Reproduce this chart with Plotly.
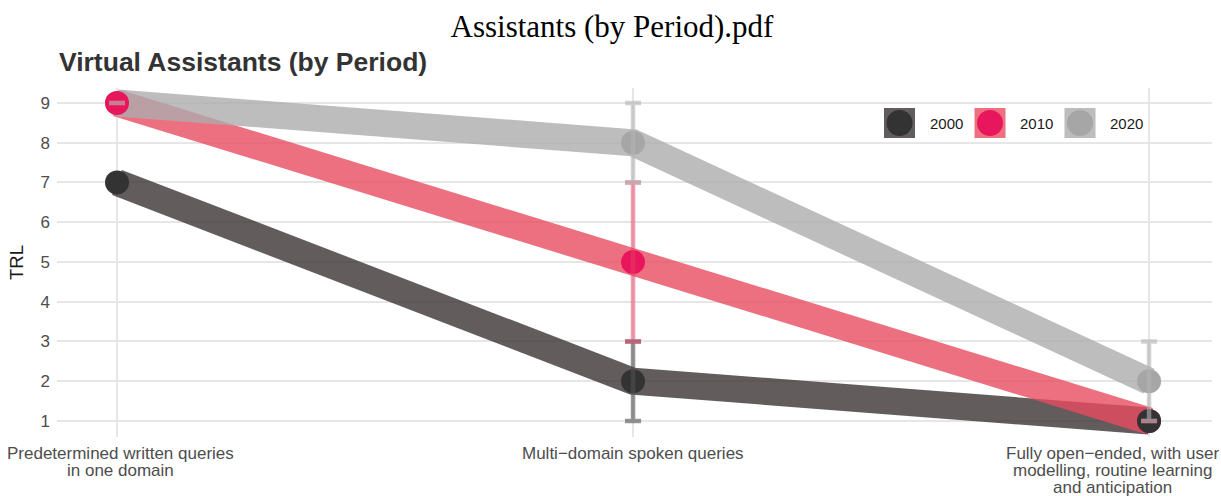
import plotly.graph_objects as go

categories = ["Predetermined written queries<br>in one domain",
              "Multi\u2212domain spoken queries",
              "Fully open\u2212ended, with user<br>modelling, routine learning<br>and anticipation"]
periods = ["2000", "2010", "2020"]
trl_2000 = [7, 2, 1]
trl_2010 = [9, 5, 1]
trl_2020 = [9, 8, 2]
low_2000 = [None, 1, 1]
high_2000 = [None, 3, 1]
low_2010 = [9, 3, 1]
high_2010 = [9, 7, 1]
low_2020 = [9, 7, 1]
high_2020 = [9, 9, 3]

values = {"2000": trl_2000, "2010": trl_2010, "2020": trl_2020}
lows = {"2000": low_2000, "2010": low_2010, "2020": low_2020}
highs = {"2000": high_2000, "2010": high_2010, "2020": high_2020}
line_col = {"2000": "rgba(59,52,51,0.8)", "2010": "rgba(232,76,96,0.8)", "2020": "rgba(173,173,173,0.8)"}
mark_col = {"2000": "#333333", "2010": "#e8175d", "2020": "#a6a6a6"}
err_col = {"2000": "rgba(80,80,80,0.6)", "2010": "rgba(232,60,100,0.5)", "2020": "rgba(180,180,180,0.6)"}

xs = [0, 1, 2]
fig = go.Figure()
for p in periods:
    fig.add_trace(go.Scatter(x=xs, y=values[p], mode="lines",
                             line=dict(color=line_col[p], width=27),
                             showlegend=False, hoverinfo="skip"))
for p in reversed(periods):
    fig.add_trace(go.Scatter(x=xs, y=values[p], mode="markers",
                             marker=dict(color=mark_col[p], size=24, line=dict(width=0)),
                             showlegend=False, name=p))
for p in periods:
    v = values[p]
    ys = [y if l is not None else None for y, l in zip(v, lows[p])]
    fig.add_trace(go.Scatter(x=xs, y=ys, mode="markers",
                             marker=dict(color="rgba(0,0,0,0)", size=1),
                             error_y=dict(type="data", symmetric=False,
                                          array=[(h - y) if h is not None else 0 for h, y in zip(highs[p], v)],
                                          arrayminus=[(y - l) if l is not None else 0 for l, y in zip(lows[p], v)],
                                          color=err_col[p], thickness=4.5, width=8),
                             showlegend=False, hoverinfo="skip"))

W, H = 1221, 496
L, R, T, B = 57, 9, 88, 59
pw, ph = W - L - R, H - T - B

def px2paper(x, y):
    return (x - L) / pw, (H - B - y) / ph

shapes = []
annotations = []
leg_x = [899.5, 990, 1080]
leg_y = 123
for p, cx in zip(periods, leg_x):
    px, py = px2paper(cx, leg_y)
    shapes.append(dict(type="rect", xref="paper", yref="paper", xsizemode="pixel", ysizemode="pixel",
                       xanchor=px, yanchor=py, x0=-15.5, x1=15.5, y0=-15, y1=15,
                       fillcolor=line_col[p], line=dict(width=0)))
    shapes.append(dict(type="circle", xref="paper", yref="paper", xsizemode="pixel", ysizemode="pixel",
                       xanchor=px, yanchor=py, x0=-13, x1=13, y0=-13, y1=13,
                       fillcolor=mark_col[p], line=dict(width=0)))
    tx, ty = px2paper(cx + 28, leg_y)
    annotations.append(dict(text=p, xref="paper", yref="paper", x=tx, y=ty, xanchor="left", yanchor="middle",
                            showarrow=False, font=dict(family="Liberation Sans, Arial", size=15, color="#1a1a1a")))

# category labels (multi-line, tight line spacing); shifted so that they fit inside the figure
label_shift = [3, 0, -37]
for i, cat in enumerate(categories):
    for j, line in enumerate(cat.split("<br>")):
        annotations.append(dict(text=line, xref="x", yref="paper", x=xs[i], y=0, xanchor="center",
                                yanchor="middle", yshift=-(16 + 17 * j), xshift=label_shift[i], showarrow=False,
                                font=dict(family="Liberation Sans, Arial", size=17, color="#4d4d4d")))

annotations.append(dict(text="<b>Virtual Assistants (by Period)</b>", xref="paper", yref="paper",
                        x=px2paper(57, 0)[0], y=px2paper(0, 62)[1], xanchor="left", yanchor="middle",
                        showarrow=False, font=dict(family="Liberation Sans, Arial", size=26.5, color="#333333")))

fig.update_layout(
    width=W, height=H,
    margin=dict(l=L, r=R, t=T, b=B, autoexpand=False),
    plot_bgcolor="white", paper_bgcolor="white",
    title=dict(text="Assistants (by Period).pdf", x=612 / W, xref="container", y=1 - 26 / H, yanchor="middle",
               xanchor="center",
               font=dict(family="Liberation Serif, Times New Roman, serif", size=31, color="black")),
    shapes=shapes, annotations=annotations,
    xaxis=dict(range=[-0.1163, 2.122], tickvals=xs, ticktext=["", "", ""], showgrid=True, automargin=False,
               gridcolor="#e6e6e6", gridwidth=1.5, zeroline=False, showline=False, ticks=""),
    yaxis=dict(range=[0.597, 9.377], tickvals=list(range(1, 10)), showgrid=True, automargin=False,
               gridcolor="#e6e6e6", gridwidth=1.5, zeroline=False, showline=False, ticks="",
               ticklabelstandoff=6,
               title=dict(text="TRL", standoff=12, font=dict(family="Liberation Sans, Arial", size=18.5, color="#1a1a1a")),
               tickfont=dict(family="Liberation Sans, Arial", size=17, color="#4d4d4d")),
)
fig.write_html("out.html", config={"displayModeBar": False},
               post_script="document.body.style.margin='0';document.body.style.padding='0';")
